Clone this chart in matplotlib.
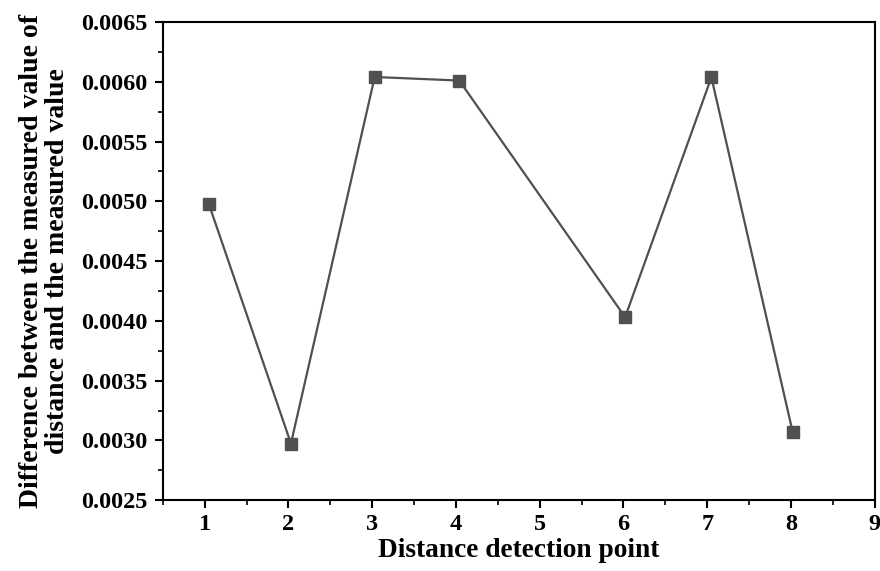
import matplotlib
matplotlib.use("Agg")
import matplotlib.pyplot as plt
from matplotlib.ticker import MultipleLocator

x_points = [1.05, 2.03, 3.03, 4.04, 6.02, 7.05, 8.02]
y_values = [0.004977, 0.002974, 0.00604, 0.00601, 0.004031, 0.006037, 0.003072]
x_ticks = [1, 2, 3, 4, 5, 6, 7, 8, 9]
y_ticks = [0.0025, 0.0030, 0.0035, 0.0040, 0.0045, 0.0050, 0.0055, 0.0060, 0.0065]

plt.rcParams['font.family'] = ['Liberation Serif', 'DejaVu Serif']
plt.rcParams['font.weight'] = 'bold'

fig = plt.figure(figsize=(8.8, 5.71), dpi=100)
ax = fig.add_axes([0.185, 0.124, 0.809, 0.8375])
ax.plot(x_points, y_values, color='#505050', lw=1.6, marker='s', ms=8,
        markerfacecolor='#505050', markeredgecolor='#505050')
ax.set_xlim(0.5, 9)
ax.set_ylim(0.0025, 0.0065)
ax.set_xticks(x_ticks)
ax.set_yticks(y_ticks)
ax.set_yticklabels([f"{v:.4f}" for v in y_ticks])
ax.xaxis.set_minor_locator(MultipleLocator(0.5))
ax.yaxis.set_minor_locator(MultipleLocator(0.00025))
ax.tick_params(which='major', direction='out', length=6, width=1.5, labelsize=17.5)
ax.tick_params(axis='x', which='major', pad=4)
ax.tick_params(axis='y', which='major', pad=5)
ax.tick_params(which='minor', direction='out', length=3.5, width=1.2)
for s in ax.spines.values():
    s.set_linewidth(1.5)
for lbl in ax.get_xticklabels() + ax.get_yticklabels():
    lbl.set_fontweight('bold')
ax.set_xlabel('Distance detection point', fontsize=19.7, fontweight='bold', labelpad=2)
ax.set_ylabel('Difference between the measured value of\ndistance and the measured value',
              fontsize=20, fontweight='bold', labelpad=8, linespacing=1.05)
fig.savefig('out.png', dpi=100)
